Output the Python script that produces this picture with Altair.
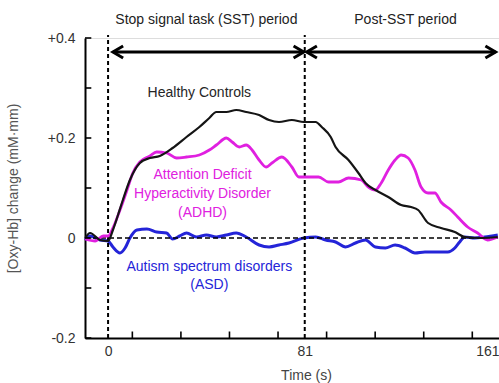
import altair as alt
import pandas as pd

# ---- data ----
hc_t = [-9.4, -7.4, -3.3, 0.0, 2.0, 4.1, 6.1, 9.0, 13.1, 17.2, 21.3, 26.6, 32.3, 37.6, 41.7, 44.6, 48.7,
        52.8, 56.9, 62.2, 66.3, 70.4, 75.7, 80.6, 85.5, 88.0, 91.7, 93.7, 99.0, 103.1, 106.0, 110.1,
        115.4, 120.7, 124.8, 127.7, 131.8, 137.1, 142.8, 146.9, 153.4, 160.5]
hc_v = [0.0, 0.01, -0.004, -0.006, 0.016, 0.046, 0.076, 0.116, 0.15, 0.16, 0.164, 0.18, 0.202, 0.222, 0.24,
        0.252, 0.252, 0.256, 0.252, 0.246, 0.236, 0.232, 0.236, 0.232, 0.232, 0.222, 0.202, 0.182, 0.156,
        0.13, 0.11, 0.096, 0.082, 0.066, 0.062, 0.056, 0.03, 0.02, 0.012, 0.002, 0.0, 0.002]

adhd_t = [-9.4, -5.3, -2.0, 0.0, 2.0, 4.9, 7.8, 10.2, 13.1, 17.2, 20.0, 24.1, 28.2, 32.3, 37.6, 41.7, 44.6,
          48.7, 51.1, 54.0, 56.9, 59.3, 62.2, 65.1, 67.5, 71.6, 75.7, 78.6, 82.7, 86.7, 90.8, 94.9, 99.0,
          104.3, 107.2, 110.1, 112.5, 115.4, 118.2, 120.7, 123.6, 126.4, 128.9, 131.8, 134.6, 137.1,
          141.2, 144.0, 148.1, 152.2, 156.3, 160.5]
adhd_v = [-0.002, -0.006, 0.004, 0.004, 0.02, 0.056, 0.096, 0.13, 0.152, 0.164, 0.172, 0.17, 0.16, 0.162,
          0.166, 0.176, 0.186, 0.2, 0.192, 0.182, 0.186, 0.176, 0.156, 0.142, 0.15, 0.162, 0.142, 0.122,
          0.122, 0.122, 0.112, 0.112, 0.12, 0.116, 0.102, 0.096, 0.11, 0.136, 0.156, 0.166, 0.16, 0.136,
          0.102, 0.09, 0.09, 0.072, 0.056, 0.042, 0.022, 0.01, -0.004, 0.002]

asd_t = [-9.4, -7.4, -3.3, 0.0, 2.0, 4.9, 7.0, 9.0, 11.9, 16.0, 20.0, 24.1, 26.6, 29.5, 32.3, 36.4, 40.5,
         44.6, 48.7, 52.8, 56.9, 62.2, 66.3, 70.4, 74.5, 80.6, 85.5, 89.6, 93.7, 97.8, 101.9, 106.0,
         110.1, 114.2, 118.2, 122.3, 126.4, 130.5, 134.6, 139.9, 142.8, 144.8, 146.9, 151.0, 155.1, 160.5]
asd_v = [-0.004, 0.004, -0.004, -0.006, -0.018, -0.03, -0.02, 0.0, 0.016, 0.018, 0.012, 0.01, -0.002, 0.004,
         0.01, 0.002, 0.006, 0.002, 0.006, 0.01, 0.002, -0.014, -0.018, -0.014, -0.01, 0.0, 0.002, -0.004,
         -0.008, -0.018, -0.01, -0.004, -0.018, -0.02, -0.014, -0.02, -0.03, -0.028, -0.028, -0.028, -0.02,
         -0.008, 0.002, 0.0, 0.002, 0.006]

period_bounds = [0, 81]
x_label_values = [0, 81, 161]
x_minor_ticks = [10, 30, 50, 70, 90, 110, 130, 150]
y_tick_values = [-0.2, -0.1, 0, 0.1, 0.2, 0.3, 0.4]
y_label_values = [0.4, 0.2, 0, -0.2]
y_label_text = ["+0.4", "+0.2", "0", "-0.2"]

periods = ["Stop signal task (SST) period", "Post-SST period"]
period_text_x = [40.5, 122.5]
arrow_start = [2.0, 81.8]
arrow_end = [80.6, 159.6]

hc_label = ["Healthy Controls"]
adhd_label = ["Attention Deficit", "Hyperactivity Disorder", "(ADHD)"]
asd_label = ["Autism spectrum disorders", "(ASD)"]

HC_COLOR = "#151515"
ADHD_COLOR = "#e020e0"
ASD_COLOR = "#2424d8"
FONT = "Liberation Sans"

XDOM = [-9.5, 161]
YDOM = [-0.2, 0.4]
xs = alt.Scale(domain=XDOM, nice=False, zero=False)
ys = alt.Scale(domain=YDOM, nice=False, zero=False)

label_expr = " : ".join(
    f"datum.value == {v} ? '{t}'" for v, t in zip(y_label_values, y_label_text)
) + " : ''"

x_axis = alt.Axis(values=x_label_values, format="d", labelFlush=True, ticks=False, tickSize=0,
                  grid=False, domainColor="black", domainWidth=2, labelFontSize=14,
                  labelColor="#333333", labelPadding=6, title="Time (s)", titleFontSize=14,
                  titleFontWeight="normal", titleColor="#444444", titleX=221, titleY=37,
                  titleBaseline="middle", titleAlign="center")
y_axis = alt.Axis(values=y_tick_values, labelExpr=label_expr, ticks=False, tickSize=0, grid=False,
                  domainColor="black", domainWidth=2, labelFontSize=14, labelColor="#333333",
                  labelPadding=10, title="[Oxy-Hb] change (mM\u00b7mm)", titleFontSize=14,
                  titleFontWeight="normal", titleColor="#555555", titleX=-72, titleY=150,
                  titleBaseline="middle", titleAlign="center")


def curve(t, v, color, width):
    df = pd.DataFrame({"t": t, "v": v})
    return alt.Chart(df).mark_line(color=color, strokeWidth=width, interpolate="monotone").encode(
        x=alt.X("t:Q", scale=xs, axis=x_axis),
        y=alt.Y("v:Q", scale=ys, axis=y_axis),
    )


zero_line = alt.Chart(pd.DataFrame({"a": [XDOM[0]], "b": [XDOM[1]], "y": [0]})).mark_rule(
    color="black", strokeWidth=1.6, strokeDash=[5, 3]).encode(
    x=alt.X("a:Q", scale=xs), x2="b:Q", y=alt.Y("y:Q", scale=ys))

vlines = alt.Chart(pd.DataFrame({"x": period_bounds, "y1": [-0.2] * 2, "y2": [0.406] * 2})).mark_rule(
    color="black", strokeWidth=2, strokeDash=[4, 3]).encode(
    x=alt.X("x:Q", scale=xs), y=alt.Y("y1:Q", scale=ys), y2="y2:Q")

ytick_df = pd.DataFrame({"y": y_tick_values, "a": [XDOM[0]] * len(y_tick_values),
                         "b": [XDOM[0] + 2.6] * len(y_tick_values)})
yticks = alt.Chart(ytick_df).mark_rule(color="black", strokeWidth=1.6).encode(
    y=alt.Y("y:Q", scale=ys), x=alt.X("a:Q", scale=xs), x2="b:Q")
xtick_df = pd.DataFrame({"x": x_minor_ticks, "a": [YDOM[0]] * len(x_minor_ticks),
                         "b": [YDOM[0] + 0.013] * len(x_minor_ticks)})
xticks = alt.Chart(xtick_df).mark_rule(color="black", strokeWidth=1.6).encode(
    x=alt.X("x:Q", scale=xs), y=alt.Y("a:Q", scale=ys), y2="b:Q")

arrow_df = pd.DataFrame({"a": arrow_start, "b": arrow_end, "y": [0.372] * 2})
arrows = alt.Chart(arrow_df).mark_rule(color="black", strokeWidth=3).encode(
    x=alt.X("a:Q", scale=xs), x2="b:Q", y=alt.Y("y:Q", scale=ys))
left_heads = alt.Chart(arrow_df).mark_point(shape="M1.7,-1L0,0L1.7,1", size=144, filled=False,
                                            color="black", strokeWidth=3, opacity=1).encode(
    x=alt.X("a:Q", scale=xs), y=alt.Y("y:Q", scale=ys))
right_heads = alt.Chart(arrow_df).mark_point(shape="M-1.7,-1L0,0L-1.7,1", size=144, filled=False,
                                             color="black", strokeWidth=3, opacity=1).encode(
    x=alt.X("b:Q", scale=xs), y=alt.Y("y:Q", scale=ys))

period_txt = alt.Chart(pd.DataFrame({"txt": periods, "x": period_text_x, "y": [0.436] * 2})).mark_text(
    font=FONT, fontSize=14, color="#222222", baseline="middle", align="center").encode(
    x=alt.X("x:Q", scale=xs), y=alt.Y("y:Q", scale=ys), text="txt:N")


def labels(lines, x, ys_, color):
    df = pd.DataFrame({"txt": lines, "x": [x] * len(lines), "y": ys_})
    return alt.Chart(df).mark_text(font=FONT, fontSize=14, color=color, baseline="middle",
                                   align="center").encode(
        x=alt.X("x:Q", scale=xs), y=alt.Y("y:Q", scale=ys), text="txt:N")


hc_txt = labels(hc_label, 37.6, [0.29], "#262626")
adhd_txt = labels(adhd_label, 38.9, [0.126, 0.088, 0.05], ADHD_COLOR)
asd_txt = labels(asd_label, 41.7, [-0.058, -0.094], ASD_COLOR)

chart = alt.layer(
    curve(asd_t, asd_v, ASD_COLOR, 3),
    zero_line, vlines,
    curve(adhd_t, adhd_v, ADHD_COLOR, 2.8),
    curve(hc_t, hc_v, HC_COLOR, 2.2),
    yticks, xticks, arrows, left_heads, right_heads,
    period_txt, hc_txt, adhd_txt, asd_txt,
).properties(
    width=414, height=300,
    autosize=alt.AutoSizeParams(type="none"),
    padding={"left": 85, "top": 38, "right": 0, "bottom": 45},
).configure_view(stroke=None).configure(font=FONT, background="white")

chart.save("out.html", embed_options={"renderer": "svg", "actions": False})
